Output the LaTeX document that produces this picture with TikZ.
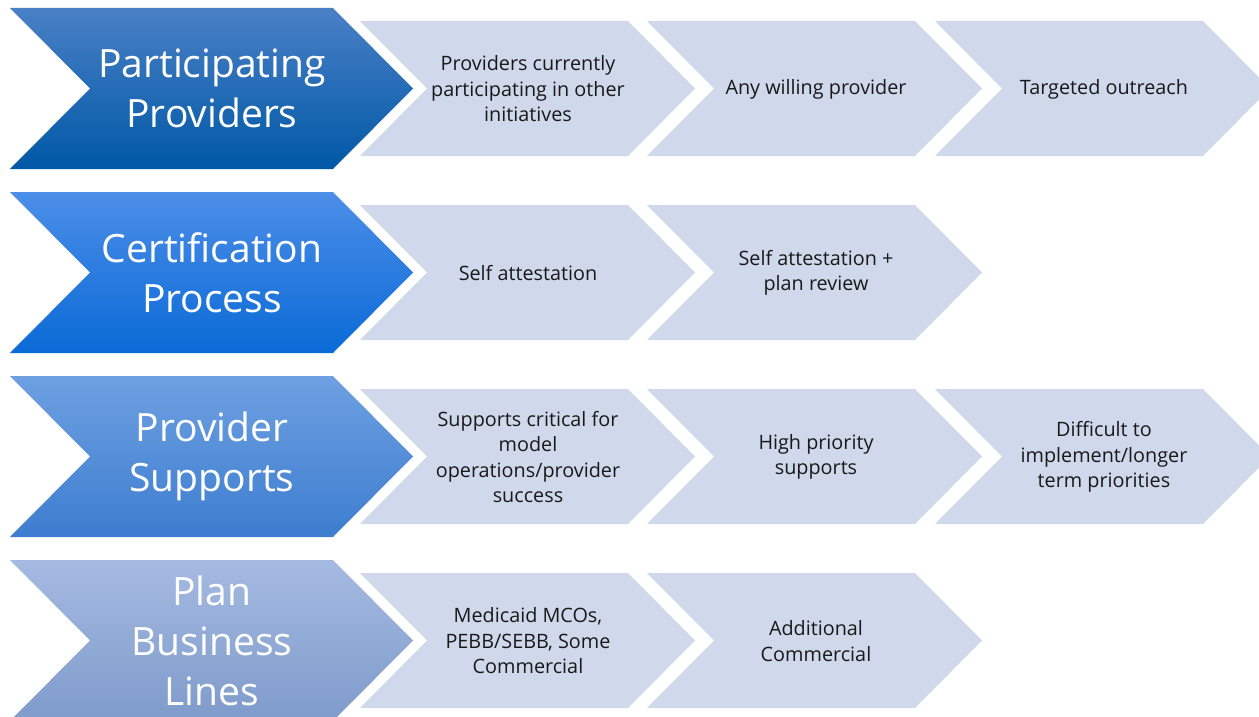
\documentclass[tikz,border=0pt]{standalone}
\usepackage{fontspec}
\setmainfont{Open Sans}
\usepackage{tikz}
\usetikzlibrary{positioning}

\begin{document}
\begin{tikzpicture}[x=1pt,y=-1pt,
		bigtxt/.style={text=white, align=center, font=\fontsize{39}{50}\selectfont},
		smalltxt/.style={text=black!90, align=center, font=\fontsize{19.8}{25.5}\selectfont},
		lightchev/.style={fill=lightfill, draw=none}
	]
		\definecolor{lightfill}{HTML}{CFD9EB}
		\useasboundingbox (0,0) rectangle (1259,717);
		\clip (0,0) rectangle (1259,717);
		% left chevrons (gradient)
		\foreach \r/\ctop/\cmid/\cbot in {0/4A80C6/0068BB/0058A6, 1/4C8EE8/1A7DE4/0A6AD6, 2/6EA0E2/5590DC/3D7DCF, 3/A5BAE1/92AADA/7E9BCB}
		{
			\definecolor{ct}{HTML}{\ctop}\definecolor{cm}{HTML}{\cmid}\definecolor{cb}{HTML}{\cbot}
			\shade[top color=ct, middle color=cm, bottom color=cb]
			(10,8+184*\r) -- (333,8+184*\r) -- (413,88.5+184*\r) -- (333,169+184*\r)
			-- (10,169+184*\r) -- (90,88.5+184*\r) -- cycle;
		}
		% light chevrons
		\foreach \r/\x in {0/360,0/647,0/935, 1/360,1/647, 2/360,2/647,2/935, 3/360,3/647}
		{
			\path[lightchev] (\x,21+184*\r) -- (\x+268,21+184*\r) -- (\x+335,88.5+184*\r)
			-- (\x+268,156+184*\r) -- (\x,156+184*\r) -- (\x+67,88.5+184*\r) -- cycle;
		}
		% headings
		\node[bigtxt] (pp) at (212,88.5) {Participating\\Providers};
		\node[bigtxt] (cp) at (212,272.5) {Certification\\Process};
		\node[bigtxt] (ps) at (212,456.5) {Provider\\Supports};
		\node[bigtxt] (pb) at (212,640.5) {Plan\\Business\\Lines};
		% steps
		\node[smalltxt] (pp1) at (528,89) {Providers currently\\participating in other\\initiatives};
		\node[smalltxt] (pp2) at (816,89) {Any willing provider};
		\node[smalltxt] (pp3) at (1104,89) {Targeted outreach};
		\node[smalltxt] (cp1) at (528,273) {Self attestation};
		\node[smalltxt] (cp2) at (816,273) {Self attestation +\\plan review};
		\node[smalltxt] (ps1) at (528,457) {Supports critical for\\model\\operations/provider\\success};
		\node[smalltxt] (ps2) at (816,457) {High priority\\supports};
		\node[smalltxt] (ps3) at (1104,457) {Difficult to\\implement/longer\\term priorities};
		\node[smalltxt] (pb1) at (528,641) {Medicaid MCOs,\\PEBB/SEBB, Some\\Commercial};
		\node[smalltxt] (pb2) at (816,641) {Additional\\Commercial};
	\end{tikzpicture}
\end{document}
